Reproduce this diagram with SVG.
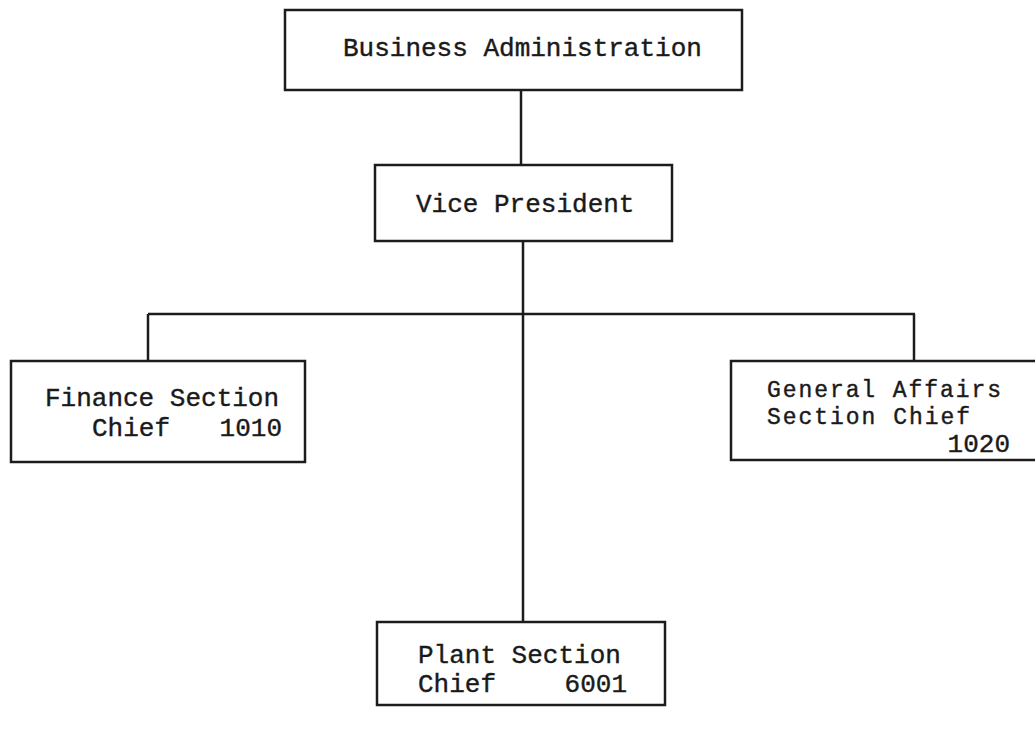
<svg xmlns="http://www.w3.org/2000/svg" width="1035" height="736" viewBox="0 0 1035 736">
<style>
.box{fill:none;stroke:#1c1c1c;stroke-width:2.5}
.ln{fill:none;stroke:#1c1c1c;stroke-width:2.5}
text{font-family:"Liberation Mono","DejaVu Sans Mono",monospace;font-size:26px;fill:#1a1a1a;stroke:#1a1a1a;stroke-width:0.4}
.sm{font-size:23px}
</style>
<rect width="1035" height="736" fill="#ffffff"/>
<g id="connectors">
<line class="ln" x1="521" y1="90" x2="521" y2="165"/>
<line class="ln" x1="523" y1="241" x2="523" y2="622"/>
<line class="ln" x1="148" y1="314" x2="915" y2="314"/>
<line class="ln" x1="148" y1="314" x2="148" y2="361"/>
<line class="ln" x1="914" y1="314" x2="914" y2="361"/>
</g>
<g id="business-administration">
<rect class="box" x="285" y="10" width="457" height="80"/>
<text x="343" y="56">Business Administration</text>
</g>
<g id="vice-president">
<rect class="box" x="375" y="165" width="297" height="76"/>
<text x="416" y="212">Vice President</text>
</g>
<g id="finance-section">
<rect class="box" x="11" y="361" width="294" height="101"/>
<text x="45" y="406">Finance Section</text>
<text x="92" y="436">Chief</text>
<text x="282" y="436" text-anchor="end">1010</text>
</g>
<g id="general-affairs">
<rect class="box" x="731" y="361" width="320" height="99"/>
<text class="sm" x="767" y="397" textLength="234" lengthAdjust="spacing">General Affairs</text>
<text class="sm" x="767" y="424" textLength="203" lengthAdjust="spacing">Section Chief</text>
<text x="1010" y="452" text-anchor="end">1020</text>
</g>
<g id="plant-section">
<rect class="box" x="377" y="622" width="288" height="83"/>
<text x="418" y="663">Plant Section</text>
<text x="418" y="692">Chief</text>
<text x="627" y="692" text-anchor="end">6001</text>
</g>
</svg>
